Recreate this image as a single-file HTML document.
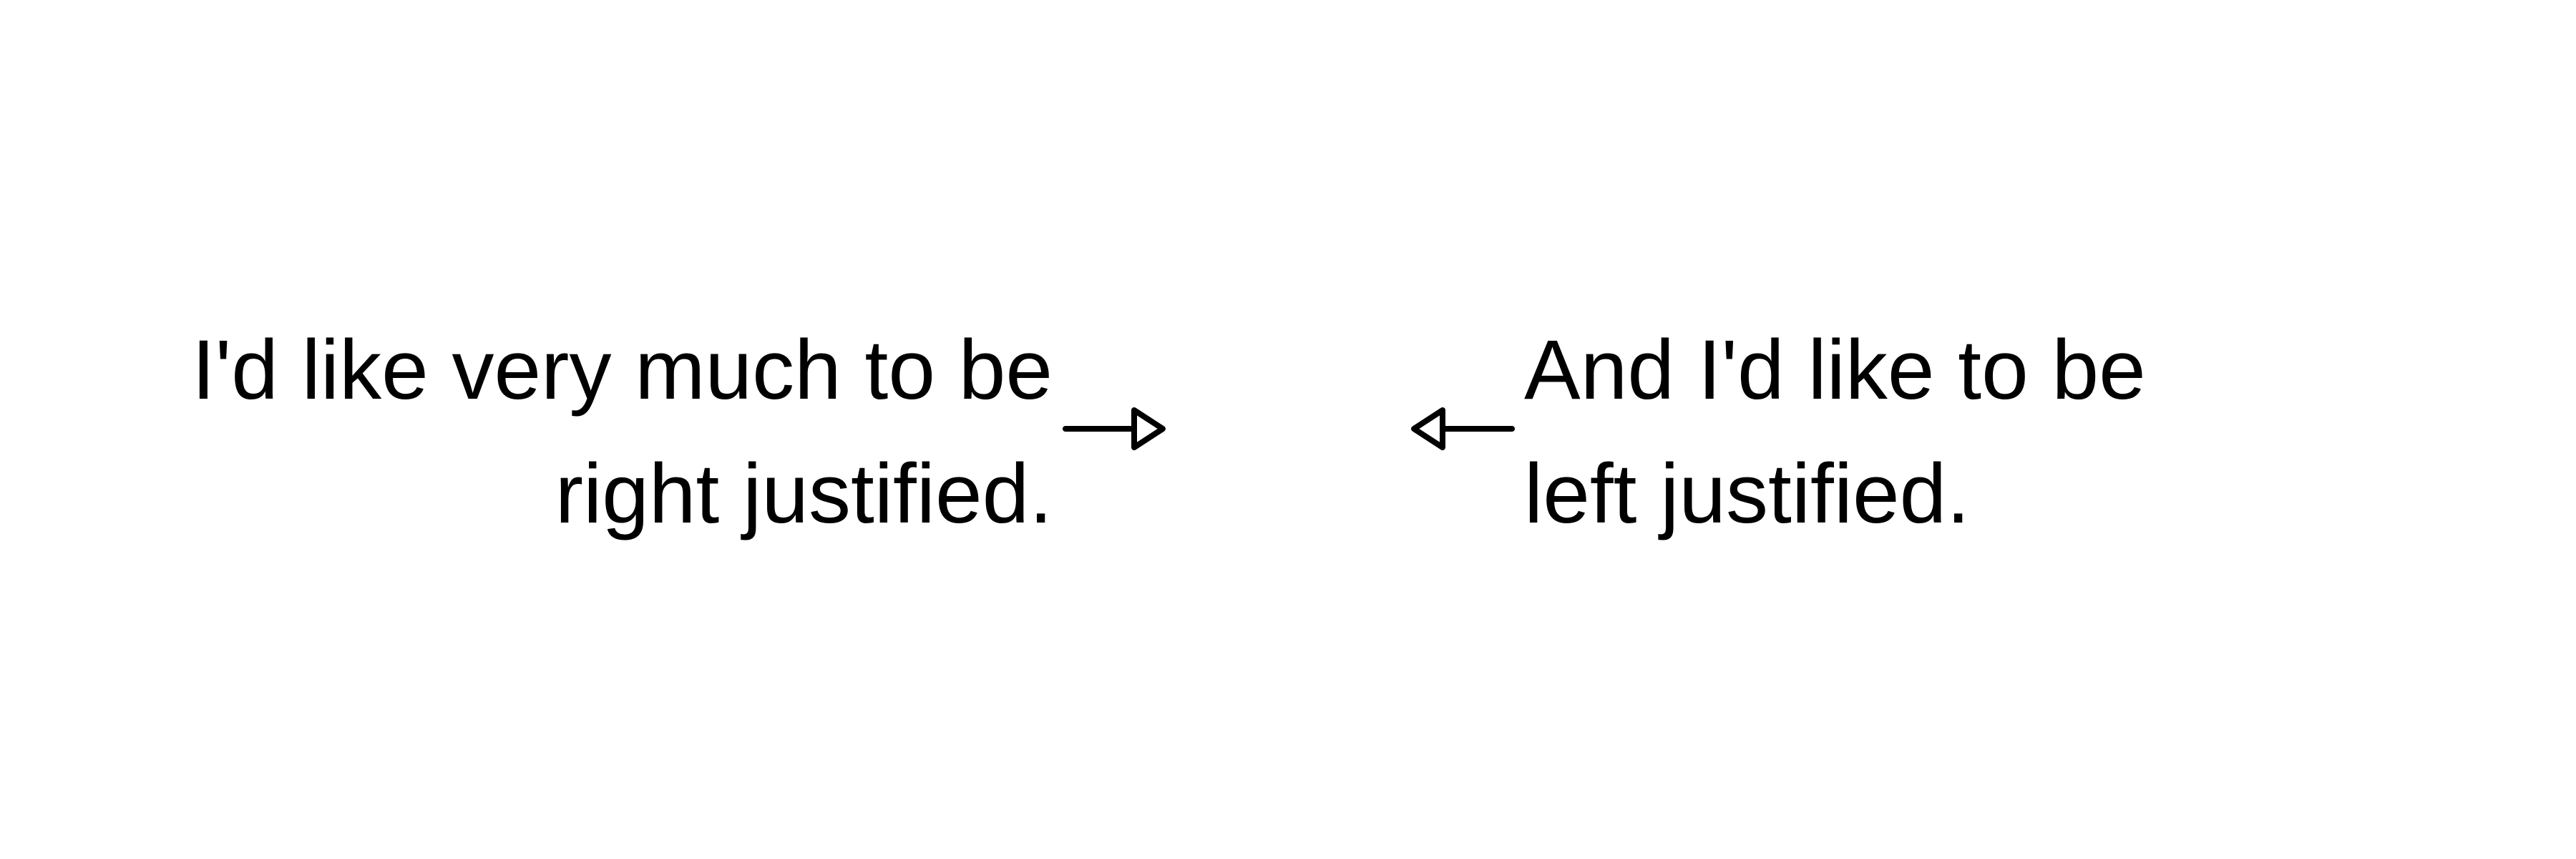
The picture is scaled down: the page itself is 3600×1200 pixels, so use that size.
<!DOCTYPE html>
<html><head><meta charset="utf-8"><style>
html,body{margin:0;padding:0;background:#fff;}
svg{display:block;}
text{font-family:"Liberation Sans",Arial,sans-serif;font-size:118px;fill:#000;}
</style></head><body>
<svg width="3600" height="1200" viewBox="0 0 3600 1200">
<rect width="3600" height="1200" fill="#fff"/>
<g>
<text x="1471" y="557" text-anchor="end">I'd like very much to be</text>
<text x="1471" y="730" text-anchor="end">right justified.</text>
</g>
<g stroke="#000" stroke-width="8" stroke-linecap="round" stroke-linejoin="round" fill="#fff">
<line x1="1497" y1="602" x2="1593" y2="602" transform="translate(-8,-3)"/>
<polygon points="1593,576 1633,602 1593,628" transform="translate(-8,-3)"/>
</g>
<g stroke="#000" stroke-width="8" stroke-linecap="round" stroke-linejoin="round" fill="#fff">
<line x1="2113" y1="599" x2="2016" y2="599"/>
<polygon points="2016,573 1976,599 2016,625"/>
</g>
<g>
<text x="2130" y="557">And I'd like to be</text>
<text x="2130" y="730">left justified.</text>
</g>
</svg>
</body></html>
